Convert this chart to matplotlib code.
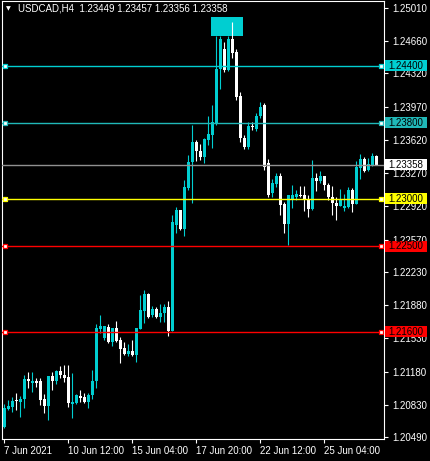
import numpy as np
import matplotlib
matplotlib.use("Agg")
import matplotlib.pyplot as plt
import matplotlib.transforms as mtransforms
from matplotlib.patches import Rectangle

plt.rcParams['font.family'] = ['Liberation Sans', 'DejaVu Sans']

SYMBOL = "USDCAD,H4"

# H4 candles
opens = [1.20595, 1.20785, 1.20806, 1.20880, 1.20859, 1.20890, 1.21101, 1.21059, 1.21080, 1.21080,
         1.20890, 1.20816, 1.21133, 1.21080, 1.21185, 1.21143, 1.21122, 1.20837, 1.20848, 1.20922,
         1.20911, 1.20859, 1.20932, 1.21080, 1.21628, 1.21533, 1.21649, 1.21491, 1.21638, 1.21512,
         1.21427, 1.21364, 1.21396, 1.21354, 1.21628, 1.21817, 1.21996, 1.21775, 1.21838, 1.21754,
         1.21796, 1.21859, 1.21607, 1.22723, 1.22881, 1.22681, 1.23113, 1.23387, 1.23598, 1.23503,
         1.23440, 1.23619, 1.23672, 1.23788, 1.24367, 1.24578, 1.24356, 1.24683, 1.24546, 1.24083,
         1.23640, 1.23545, 1.23766, 1.23735, 1.23872, 1.23988, 1.23377, 1.23061, 1.23155, 1.23240,
         1.22945, 1.22734, 1.22997, 1.23018, 1.23039, 1.23039, 1.22997, 1.22892, 1.23219, 1.23187,
         1.23240, 1.23145, 1.23018, 1.22955, 1.22924, 1.22903, 1.22913, 1.23092, 1.22945, 1.23324,
         1.23419, 1.23303, 1.23345, 1.23449]
highs = [1.20837, 1.20880, 1.20911, 1.20953, 1.20922, 1.21143, 1.21175, 1.21175, 1.21111, 1.21111,
         1.20943, 1.21133, 1.21175, 1.21196, 1.21238, 1.21248, 1.21248, 1.21164, 1.20943, 1.20985,
         1.20953, 1.20953, 1.21196, 1.21680, 1.21775, 1.21659, 1.21680, 1.21638, 1.21712, 1.21543,
         1.21491, 1.21470, 1.21512, 1.21638, 1.21986, 1.22039, 1.22007, 1.21870, 1.21859, 1.21891,
         1.21891, 1.21923, 1.22829, 1.22913, 1.22881, 1.23198, 1.23461, 1.23777, 1.23619, 1.23577,
         1.23640, 1.23872, 1.23988, 1.24715, 1.24715, 1.24651, 1.24715, 1.24862, 1.24578, 1.24125,
         1.23672, 1.23809, 1.23809, 1.23903, 1.24019, 1.24009, 1.23419, 1.23208, 1.23271, 1.23271,
         1.22966, 1.23039, 1.23145, 1.23092, 1.23134, 1.23134, 1.23039, 1.23408, 1.23271, 1.23292,
         1.23240, 1.23166, 1.23134, 1.23018, 1.23103, 1.23050, 1.23124, 1.23113, 1.23398, 1.23471,
         1.23440, 1.23429, 1.23482, 1.23457]
lows = [1.20584, 1.20774, 1.20753, 1.20774, 1.20700, 1.20795, 1.21006, 1.20964, 1.21017, 1.20827,
        1.20743, 1.20669, 1.20985, 1.21048, 1.21111, 1.21069, 1.20806, 1.20690, 1.20837, 1.20859,
        1.20848, 1.20795, 1.20890, 1.21006, 1.21586, 1.21512, 1.21480, 1.21449, 1.21491, 1.21269,
        1.21354, 1.21343, 1.21343, 1.21280, 1.21628, 1.21691, 1.21744, 1.21754, 1.21744, 1.21701,
        1.21701, 1.21554, 1.21607, 1.22639, 1.22671, 1.22608, 1.23092, 1.22955, 1.23398, 1.23408,
        1.23377, 1.23566, 1.23535, 1.23777, 1.24156, 1.24335, 1.24346, 1.24483, 1.24040, 1.23598,
        1.23524, 1.23524, 1.23724, 1.23714, 1.23851, 1.23303, 1.23018, 1.23018, 1.23124, 1.22829,
        1.22639, 1.22513, 1.22903, 1.22987, 1.23018, 1.22871, 1.22808, 1.22881, 1.23082, 1.23166,
        1.23092, 1.22987, 1.22829, 1.22776, 1.22924, 1.22871, 1.22903, 1.22860, 1.22945, 1.23208,
        1.23282, 1.23292, 1.23345, 1.23356]
closes = [1.20795, 1.20816, 1.20869, 1.20869, 1.20890, 1.21101, 1.21080, 1.21080, 1.21059, 1.20880,
          1.20816, 1.21133, 1.21080, 1.21185, 1.21143, 1.21111, 1.20848, 1.20859, 1.20932, 1.20901,
          1.20859, 1.20932, 1.21080, 1.21638, 1.21659, 1.21659, 1.21491, 1.21638, 1.21501, 1.21417,
          1.21364, 1.21396, 1.21354, 1.21638, 1.21828, 1.21996, 1.21754, 1.21838, 1.21754, 1.21796,
          1.21859, 1.21607, 1.22755, 1.22881, 1.22681, 1.23124, 1.23387, 1.23598, 1.23503, 1.23440,
          1.23629, 1.23682, 1.23809, 1.24367, 1.24683, 1.24356, 1.24683, 1.24536, 1.24072, 1.23640,
          1.23545, 1.23766, 1.23756, 1.23872, 1.23967, 1.23334, 1.23039, 1.23166, 1.23240, 1.22934,
          1.22734, 1.23039, 1.23039, 1.23050, 1.23029, 1.22997, 1.22892, 1.23219, 1.23187, 1.23240,
          1.23145, 1.23018, 1.22955, 1.22924, 1.22997, 1.22924, 1.23092, 1.22945, 1.23334, 1.23419,
          1.23292, 1.23366, 1.23450, 1.23358]

tick_bars = [0, 16, 32, 48, 64, 80]
tick_labels = ["7 Jun 2021", "10 Jun 12:00", "15 Jun 04:00", "17 Jun 20:00", "22 Jun 12:00", "25 Jun 04:00"]
price_ticks = [1.25010, 1.24660, 1.24320, 1.23970, 1.23620, 1.23270, 1.22920,
               1.22570, 1.22230, 1.21880, 1.21530, 1.21180, 1.20830, 1.20490]

levels = [1.24400, 1.23800, 1.23000, 1.22500, 1.21600]
level_colors = ["#00ced1", "#20b8b8", "#ffff00", "#ff0000", "#ff0000"]

zone_bars = [51.75, 59.75]
zone_prices = [1.24715, 1.24915]

BULL = "#00ced1"
BEAR = "#ffffff"
BID_COLOR = "#909090"
PX = 0.00010536  # price per pixel

fig = plt.figure(figsize=(4.3, 4.61), dpi=100, facecolor="black")
ax = fig.add_axes([2 / 430, 22 / 461, 382 / 430, 438 / 461], facecolor="black")

o = np.array(opens)
h = np.array(highs)
l = np.array(lows)
c = np.array(closes)
idx = np.arange(len(o))
col = np.where(c >= o, BULL, BEAR)

# zone rectangle behind the candles
ax.add_patch(Rectangle((zone_bars[0], zone_prices[0]), zone_bars[1] - zone_bars[0],
                       zone_prices[1] - zone_prices[0], facecolor=BULL, edgecolor="none", zorder=1))

ax.vlines(idx, l, h, colors=col, linewidth=0.8, zorder=3)
ax.bar(idx, np.maximum(np.abs(c - o), PX), bottom=np.minimum(o, c), width=0.75,
       color=col, linewidth=0, zorder=3)

trans = mtransforms.blended_transform_factory(ax.transAxes, ax.transData)

def price_box(y, fc, text_color="black"):
    ax.add_patch(Rectangle((1 + 1 / 382, y - 5.5 * PX), 42 / 382, 11 * PX, transform=trans,
                           facecolor=fc, edgecolor="none", clip_on=False, zorder=5))
    ax.text(1 + 22 / 382, y, f"{y:.5f}", transform=trans, ha="center", va="center",
            fontsize=7, color=text_color, zorder=6, clip_on=False)

# bid line
bid = closes[-1]
ax.axhline(bid, color=BID_COLOR, linewidth=1.0, zorder=4)
price_box(bid, "white")

for lvl, lc in zip(levels, level_colors):
    ax.axhline(lvl, color=lc, linewidth=1.0, zorder=4)
    ax.plot([0.33, 94.25], [lvl, lvl], "s", ms=3.4, mfc="white", mec=lc, mew=0.9,
            zorder=6, clip_on=False)
    price_box(lvl, lc)

ax.set_xlim(-0.5, 95)
ax.set_ylim(1.20469, 1.25083)

ax.yaxis.tick_right()
ax.set_yticks(price_ticks)
ax.set_yticklabels([f"{p:.5f}" for p in price_ticks])
ax.set_xticks(tick_bars)
ax.set_xticklabels(tick_labels)
for lbl in ax.get_xticklabels():
    lbl.set_ha("left")
ax.tick_params(axis="both", colors="white", labelsize=7, length=3, width=0.8, direction="out")
ax.tick_params(axis="y", pad=3)
ax.tick_params(axis="x", pad=2)

for sp in ax.spines.values():
    sp.set_color("white")
    sp.set_linewidth(0.8)

fig.text(6 / 430, 1 - 8.5 / 461, "\u25bc", fontsize=4.5, color="white", va="center",
         family=["DejaVu Sans"])
fig.text(18 / 430, 1 - 8.5 / 461, f"{SYMBOL}  {opens[-1]:.5f} {highs[-1]:.5f} {lows[-1]:.5f} {closes[-1]:.5f}",
         fontsize=7, color="white", va="center")

fig.savefig("out.png", dpi=100, facecolor="black")
